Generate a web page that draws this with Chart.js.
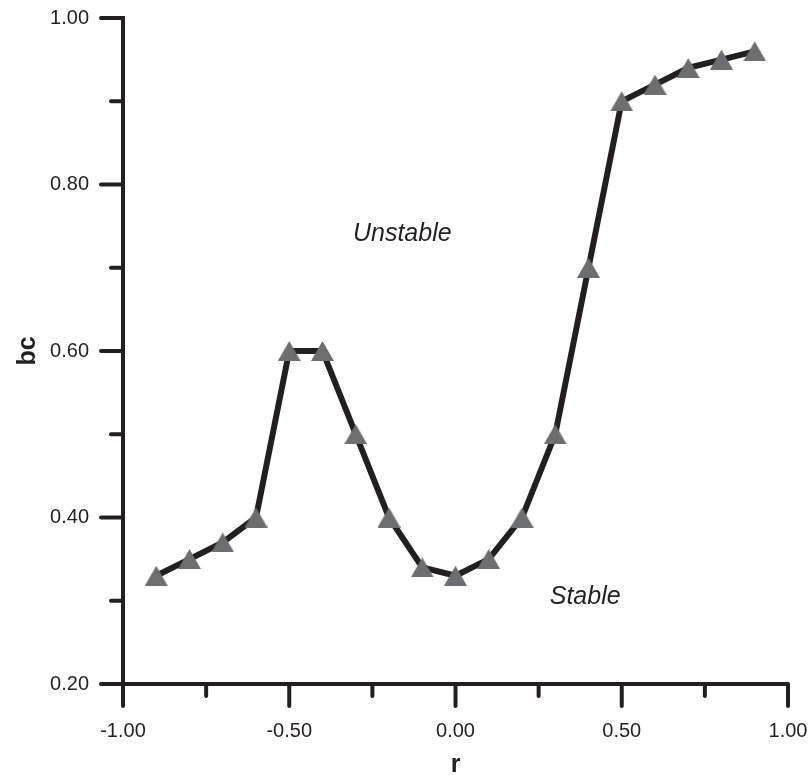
<!DOCTYPE html>
<html>
<head>
<meta charset="utf-8">
<title>bc vs r</title>
<script src="https://cdn.jsdelivr.net/npm/chart.js@4.4.1/dist/chart.umd.min.js"></script>
<style>
	html, body { margin: 0; padding: 0; background: #fff; }
	#wrap { width: 810px; height: 775px; }
</style>
</head>
<body>
<div id="wrap"><canvas id="bc-chart" width="810" height="775"></canvas></div>
<script>
// data
const r_values = [-0.9, -0.8, -0.7, -0.6, -0.5, -0.4, -0.3, -0.2, -0.1, 0.0,
	0.1, 0.2, 0.3, 0.4, 0.5, 0.6, 0.7, 0.8, 0.9];
const bc_values = [0.33, 0.35, 0.37, 0.40, 0.60, 0.60, 0.50, 0.40, 0.34, 0.33,
	0.35, 0.40, 0.50, 0.70, 0.90, 0.92, 0.94, 0.95, 0.96];

const x_range = [-1.0, 1.0];
const y_range = [0.2, 1.0];
const x_step = 0.25;   // every other tick is labelled
const y_step = 0.1;

const region_labels = ['Unstable', 'Stable'];
const region_r = [-0.16, 0.39];
const region_bc = [0.74, 0.305];

const ink = '#231f20';
const marker_grey = '#6d6e71';
const font_family = '"Liberation Sans", Arial, Helvetica, sans-serif';

function isMajor(value, step) {
	let n = Math.round(value / step);
	return n % 2 === 0;
}

// keep the label overflow from pushing the plot area in
function noOverflow(scale) {
	scale.paddingLeft = 0;
	scale.paddingRight = 0;
	scale.paddingTop = 0;
	scale.paddingBottom = 0;
}

// triangle marker centred on its bounding box, like the original plot
function triangleMarker(w, h, color) {
	let c = document.createElement('canvas');
	c.width = w;
	c.height = h;
	let g = c.getContext('2d');
	g.fillStyle = color;
	g.beginPath();
	g.moveTo(w / 2, 0);
	g.lineTo(w, h);
	g.lineTo(0, h);
	g.closePath();
	g.fill();
	return c;
}

// tick marks outside the axes, long for labelled ticks, short for the others
const tick_marks_plugin = {
	id: 'tickMarks',
	beforeDatasetsDraw(chart) {
		const ctx = chart.ctx;
		const x = chart.scales.x;
		const y = chart.scales.y;
		const area = chart.chartArea;
		ctx.save();
		ctx.strokeStyle = ink;
		ctx.lineWidth = 4;
		ctx.lineCap = 'round';
		x.ticks.forEach(function(t) {
			let px = x.getPixelForValue(t.value);
			let len = isMajor(t.value, x_step) ? 22 : 12;
			ctx.beginPath();
			ctx.moveTo(px, area.bottom);
			ctx.lineTo(px, area.bottom + len);
			ctx.stroke();
		});
		y.ticks.forEach(function(t) {
			let py = y.getPixelForValue(t.value);
			let len = isMajor(t.value, y_step) ? 22 : 12;
			ctx.beginPath();
			ctx.moveTo(area.left, py);
			ctx.lineTo(area.left - len, py);
			ctx.stroke();
		});
		ctx.restore();
	},
};

const region_labels_plugin = {
	id: 'regionLabels',
	afterDatasetsDraw(chart) {
		const ctx = chart.ctx;
		ctx.save();
		ctx.fillStyle = ink;
		ctx.font = 'italic 25px ' + font_family;
		ctx.textAlign = 'center';
		ctx.textBaseline = 'middle';
		region_labels.forEach(function(label, i) {
			ctx.fillText(label,
				chart.scales.x.getPixelForValue(region_r[i]),
				chart.scales.y.getPixelForValue(region_bc[i]));
		});
		ctx.restore();
	},
};

const bc_chart_options = {
	responsive: false,
	animation: false,
	layout: {
		padding: { top: 18, right: 22, left: 0, bottom: 0 },
	},
	plugins: {
		legend: { display: false },
		tooltip: { enabled: false },
	},
	scales: {
		x: {
			type: 'linear',
			min: x_range[0],
			max: x_range[1],
			afterFit: (scale) => { scale.height = 91; noOverflow(scale); },
			grid: { display: false, drawTicks: true, tickLength: 22 },
			border: { display: true, width: 4, color: ink },
			ticks: {
				stepSize: x_step,
				autoSkip: false,
				maxRotation: 0,
				padding: 13,
				color: ink,
				font: { family: font_family, size: 20 },
				callback: (value) => isMajor(value, x_step) ? value.toFixed(2) : '',
			},
			title: {
				display: true,
				text: 'r',
				color: ink,
				font: { family: font_family, size: 25, weight: 'bold', lineHeight: 0.8 },
				padding: { top: 0, bottom: 0 },
			},
		},
		y: {
			type: 'linear',
			min: y_range[0],
			max: y_range[1],
			afterFit: (scale) => { scale.width = 123; noOverflow(scale); },
			grid: { display: false, drawTicks: true, tickLength: 22 },
			border: { display: true, width: 4, color: ink },
			ticks: {
				stepSize: y_step,
				autoSkip: false,
				padding: 12,
				color: ink,
				font: { family: font_family, size: 20 },
				callback: (value) => isMajor(value, y_step) ? value.toFixed(2) : '',
			},
			title: {
				display: true,
				text: 'bc',
				color: ink,
				font: { family: font_family, size: 25, weight: 'bold', lineHeight: 0.8 },
				padding: { top: 18, bottom: 0 },
			},
		},
	},
};

var bc_chart_ctx = document.getElementById('bc-chart').getContext('2d');
var bc_chart = new Chart(bc_chart_ctx, {
	type: 'line',
	data: {
		datasets: [{
			data: r_values.map((r, i) => ({ x: r, y: bc_values[i] })),
			borderColor: ink,
			borderWidth: 6,
			tension: 0,
			fill: false,
			pointStyle: triangleMarker(23, 20, marker_grey),
			pointRadius: 12,
			pointBackgroundColor: marker_grey,
			pointBorderWidth: 0,
			clip: false,
		}],
	},
	options: bc_chart_options,
	plugins: [tick_marks_plugin, region_labels_plugin],
});
</script>
</body>
</html>
